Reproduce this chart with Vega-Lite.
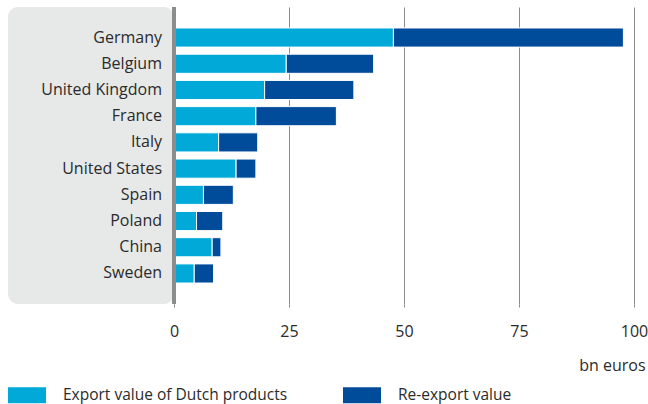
{
  "$schema": "https://vega.github.io/schema/vega-lite/v6.json",
  "padding": {"left": 8, "top": 5, "right": 0, "bottom": 0},
  "bounds": "flush",
  "background": "white",
  "config": {"view": {"stroke": null}, "font": "Open Sans", "concat": {"spacing": 0}},
  "data": {"values": [
    {"country": "Germany", "type": "Export value of Dutch products", "value": 47.7},
    {"country": "Germany", "type": "Re-export value", "value": 50.0},
    {"country": "Belgium", "type": "Export value of Dutch products", "value": 24.4},
    {"country": "Belgium", "type": "Re-export value", "value": 19.0},
    {"country": "United Kingdom", "type": "Export value of Dutch products", "value": 19.7},
    {"country": "United Kingdom", "type": "Re-export value", "value": 19.4},
    {"country": "France", "type": "Export value of Dutch products", "value": 17.8},
    {"country": "France", "type": "Re-export value", "value": 17.5},
    {"country": "Italy", "type": "Export value of Dutch products", "value": 9.7},
    {"country": "Italy", "type": "Re-export value", "value": 8.5},
    {"country": "United States", "type": "Export value of Dutch products", "value": 13.5},
    {"country": "United States", "type": "Re-export value", "value": 4.3},
    {"country": "Spain", "type": "Export value of Dutch products", "value": 6.4},
    {"country": "Spain", "type": "Re-export value", "value": 6.5},
    {"country": "Poland", "type": "Export value of Dutch products", "value": 4.9},
    {"country": "Poland", "type": "Re-export value", "value": 5.7},
    {"country": "China", "type": "Export value of Dutch products", "value": 8.3},
    {"country": "China", "type": "Re-export value", "value": 1.9},
    {"country": "Sweden", "type": "Export value of Dutch products", "value": 4.4},
    {"country": "Sweden", "type": "Re-export value", "value": 4.2}
  ]},
  "hconcat": [
    {
      "width": 166,
      "height": 297,
      "view": {"fill": "#e7e8e8", "cornerRadius": 10, "stroke": null},
      "transform": [{"filter": "datum.type == 'Export value of Dutch products'"}],
      "mark": {"type": "text", "align": "right", "baseline": "middle", "dx": -12, "fontSize": 16, "color": "#2b2b2b"},
      "encoding": {
        "y": {"field": "country", "type": "nominal", "sort": ["Germany", "Belgium", "United Kingdom", "France", "Italy", "United States", "Spain", "Poland", "China", "Sweden"], "scale": {"type": "band", "paddingInner": 0.27, "paddingOuter": 0.8}, "axis": null},
        "x": {"datum": 1, "type": "quantitative", "scale": {"domain": [0, 1]}, "axis": null},
        "text": {"field": "country"}
      }
    },
    {
      "width": 460,
      "height": 297,
      "layer": [
        {
          "mark": {"type": "bar", "stroke": "white", "strokeWidth": 1},
          "encoding": {
            "y": {"field": "country", "type": "nominal", "sort": ["Germany", "Belgium", "United Kingdom", "France", "Italy", "United States", "Spain", "Poland", "China", "Sweden"], "scale": {"type": "band", "paddingInner": 0.27, "paddingOuter": 0.8}, "axis": null},
            "x": {"field": "value", "type": "quantitative", "stack": "zero", "scale": {"domain": [0, 100], "nice": false}, "axis": {"values": [0, 25, 50, 75, 100], "grid": true, "gridColor": "#8c8c8c", "gridWidth": 1, "domain": false, "ticks": true, "tickSize": 3, "tickColor": "#8c8c8c", "labelFontSize": 16, "labelColor": "#2b2b2b", "labelPadding": 16, "labelFlush": false, "title": "bn euros", "titleFontSize": 16, "titleFontWeight": "normal", "titleColor": "#2b2b2b", "titleAnchor": "end", "titleAlign": "right", "titleX": 471, "titleY": 61, "titleBaseline": "middle"}},
            "color": {"field": "type", "type": "nominal", "scale": {"domain": ["Export value of Dutch products", "Re-export value"], "range": ["#00a9d8", "#004c9b"]}, "legend": {"orient": "none", "legendX": 11, "legendY": 380, "direction": "horizontal", "title": null, "symbolType": "M-2.375,-1H2.375V1H-2.375Z", "symbolSize": 256, "symbolStrokeWidth": 0, "symbolOpacity": 1, "labelFontSize": 15.5, "labelColor": "#2b2b2b", "labelOffset": 28, "labelLimit": 400, "columnPadding": 55, "padding": 0}}
          }
        },
        {
          "mark": {"type": "rule", "color": "#8c8c8c", "strokeWidth": 4},
          "encoding": {"x": {"datum": 0, "type": "quantitative"}}
        }
      ]
    }
  ]
}
